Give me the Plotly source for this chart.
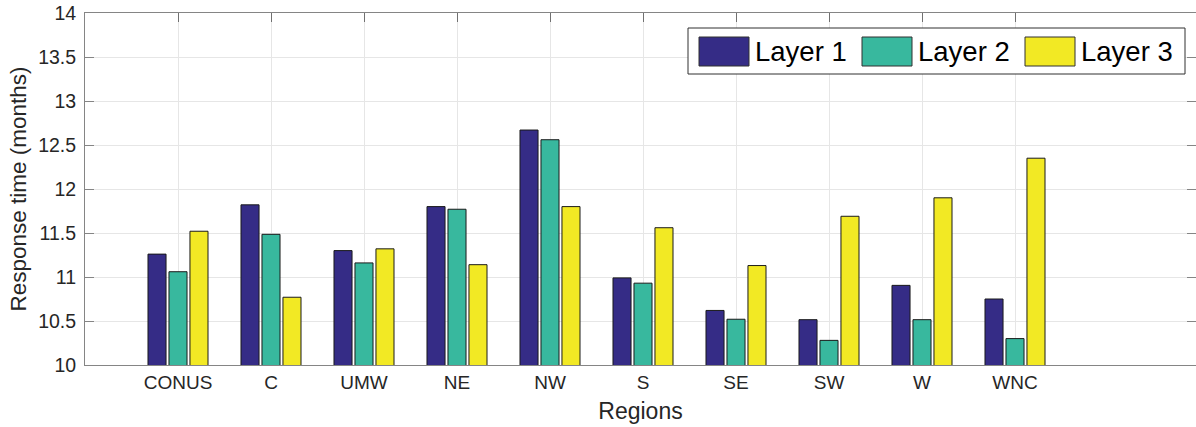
import plotly.graph_objects as go

categories = ["CONUS", "C", "UMW", "NE", "NW", "S", "SE", "SW", "W", "WNC"]
series_names = ["Layer 1", "Layer 2", "Layer 3"]
layer1 = [11.26, 11.82, 11.30, 11.80, 12.67, 10.99, 10.62, 10.515, 10.905, 10.75]
layer2 = [11.06, 11.485, 11.16, 11.77, 12.56, 10.93, 10.52, 10.28, 10.515, 10.30]
layer3 = [11.52, 10.77, 11.32, 11.14, 11.80, 11.56, 11.13, 11.69, 11.90, 12.35]
y_ticks = [10, 10.5, 11, 11.5, 12, 12.5, 13, 13.5, 14]

colors = ["#352C86", "#38B89E", "#F2E924"]
FONT = "Liberation Sans, Arial, Helvetica, sans-serif"

W, H = 1196, 427
L, R, T, B = 85, 0, 13, 62

fig = go.Figure()
for name, vals, col in zip(series_names, [layer1, layer2, layer3], colors):
    fig.add_trace(go.Bar(
        x=categories, y=vals, name=name,
        marker=dict(color=col, line=dict(color="#1a1a1a", width=1)),
        showlegend=False,
    ))

# manual legend (large swatches like the reference)
pw, ph = W - L - R, H - T - B
def px(x):
    return (x - L) / pw
def py(y):
    return (H - B - y) / ph

shapes = [dict(type="rect", xref="paper", yref="paper",
               x0=px(688), x1=px(1185), y0=py(74), y1=py(28),
               line=dict(color="#303030", width=1), fillcolor="white", layer="above")]
annotations = []
sw_x = [699, 862, 1025]
for name, col, sx in zip(series_names, colors, sw_x):
    shapes.append(dict(type="rect", xref="paper", yref="paper",
                       x0=px(sx), x1=px(sx + 50), y0=py(66), y1=py(37),
                       line=dict(color="#303030", width=1), fillcolor=col, layer="above"))
    annotations.append(dict(text=name, xref="paper", yref="paper",
                            x=px(sx + 54), y=py(51.5), xanchor="left", yanchor="middle",
                            showarrow=False, font=dict(family=FONT, size=27.5, color="black")))

xrange_ = [-1, (W - L - R) / 93.0 - 1]
fig.update_layout(
    width=W, height=H,
    margin=dict(l=L, r=R, t=T, b=B, pad=0),
    paper_bgcolor="white", plot_bgcolor="white",
    barmode="group", bargap=0.323, bargroupgap=0.14,
    font=dict(family=FONT, color="#262626"),
    shapes=shapes, annotations=annotations,
    showlegend=False,
    xaxis=dict(
        type="category", range=xrange_,
        categoryorder="array", categoryarray=categories,
        showgrid=True, gridcolor="#e6e6e6", gridwidth=1,
        showline=True, linecolor="#858585", linewidth=1, mirror="ticks",
        ticks="inside", ticklen=9, tickcolor="#707070",
        layer="below traces",
        tickfont=dict(size=19, color="#262626"),
        title=dict(text="Regions", font=dict(size=23, color="#262626"), standoff=11),
    ),
    yaxis=dict(
        range=[10, 14], tickvals=y_ticks, ticktext=[f"{v:g}" for v in y_ticks],
        showgrid=True, gridcolor="#e6e6e6", gridwidth=1,
        showline=True, linecolor="#858585", linewidth=1, mirror="ticks",
        ticks="inside", ticklen=9, tickcolor="#858585",
        tickfont=dict(size=19.5, color="#262626"), ticklabelstandoff=4,
        title=dict(text="Response time (months)", font=dict(size=22.5, color="#262626"), standoff=5),
        zeroline=False,
    ),
)

fig.write_html("out.html")
